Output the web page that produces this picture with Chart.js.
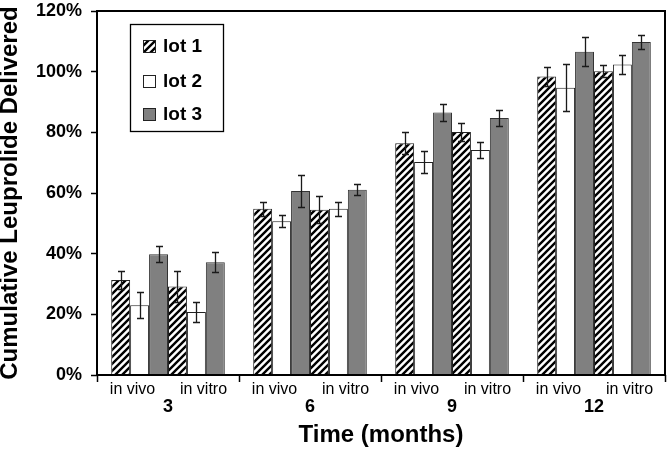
<!DOCTYPE html>
<html><head><meta charset="utf-8">
<script src="https://cdn.jsdelivr.net/npm/chart.js@4"></script>
<style>html,body{margin:0;padding:0;background:#fff}#wrap{width:667px;height:449px;position:relative}</style>
</head><body><div id="wrap"><canvas id="c"></canvas></div>
<script>
// ---- data ----
const months = ['3', '6', '9', '12'];
const conditions = ['in vivo', 'in vitro'];
const lotNames = ['lot 1', 'lot 2', 'lot 3'];
const yTicks = [0, 20, 40, 60, 80, 100, 120];

const lot1InVivo  = [31.3, 54.8, 76.4, 98.4];
const lot2InVivo  = [23.0, 50.7, 70.2, 94.7];
const lot3InVivo  = [39.8, 60.7, 86.5, 106.6];
const lot1InVitro = [29.2, 54.5, 80.1, 100.1];
const lot2InVitro = [20.8, 54.8, 74.2, 102.4];
const lot3InVitro = [37.2, 61.1, 84.7, 109.8];

const lot1InVivoErr  = [3.0, 2.3, 3.7, 3.0];
const lot2InVivoErr  = [4.3, 2.0, 3.6, 7.7];
const lot3InVivoErr  = [2.6, 5.2, 2.8, 4.8];
const lot1InVitroErr = [5.0, 4.4, 3.0, 2.0];
const lot2InVitroErr = [3.2, 2.3, 2.6, 3.2];
const lot3InVitroErr = [3.3, 1.8, 2.7, 2.3];

// ---- styles ----
const FONT = '"Liberation Sans", Arial, sans-serif';
function hatch() {
  const s = 7, c = document.createElement('canvas');
  c.width = s; c.height = s;
  const g = c.getContext('2d');
  g.fillStyle = '#fff'; g.fillRect(0, 0, s, s);
  g.strokeStyle = '#000'; g.lineWidth = 2.4;
  g.beginPath();
  g.moveTo(-1, 1); g.lineTo(1, -1);
  g.moveTo(0, s); g.lineTo(s, 0);
  g.moveTo(s - 1, s + 1); g.lineTo(s + 1, s - 1);
  g.stroke();
  return document.getElementById('c').getContext('2d').createPattern(c, 'repeat');
}
const lotFills = [hatch(), '#ffffff', '#808080'];
const lotBorders = ['#222', '#222', '#333'];

const seriesValues = [lot1InVivo, lot2InVivo, lot3InVivo, lot1InVitro, lot2InVitro, lot3InVitro];
const seriesErrors = [lot1InVivoErr, lot2InVivoErr, lot3InVivoErr, lot1InVitroErr, lot2InVitroErr, lot3InVitroErr];

const datasets = seriesValues.map((vals, i) => ({
  label: lotNames[i % 3] + ' ' + conditions[Math.floor(i / 3)],
  data: vals,
  errors: seriesErrors[i],
  backgroundColor: lotFills[i % 3],
  borderColor: lotBorders[i % 3],
  borderWidth: 1,
  borderSkipped: 'bottom',
  xAxisID: 'x',
  categoryPercentage: 0.80,
  barPercentage: 1.0
}));

const subLabels = [];
months.forEach(() => conditions.forEach(c => subLabels.push(c)));

const errorBars = {
  id: 'errorBars',
  afterDatasetsDraw(chart) {
    const ctx = chart.ctx, y = chart.scales.y;
    ctx.save();
    ctx.strokeStyle = '#1a1a1a'; ctx.lineWidth = 1.3;
    chart.data.datasets.forEach((ds, i) => {
      chart.getDatasetMeta(i).data.forEach((bar, j) => {
        const v = ds.data[j], e = ds.errors[j];
        const yt = Math.round(y.getPixelForValue(v + e)) + 0.5;
        const yb = Math.round(y.getPixelForValue(v - e)) + 0.5;
        const x = Math.round(bar.x) + 0.5;
        ctx.beginPath();
        ctx.moveTo(x, yt); ctx.lineTo(x, yb);
        ctx.moveTo(x - 3.5, yt); ctx.lineTo(x + 3.5, yt);
        ctx.moveTo(x - 3.5, yb); ctx.lineTo(x + 3.5, yb);
        ctx.stroke();
      });
    });
    // frame
    const a = chart.chartArea;
    ctx.strokeStyle = '#000'; ctx.lineWidth = 2;
    ctx.strokeRect(a.left, a.top, a.right - a.left, a.bottom - a.top);
    ctx.restore();
  }
};

const insetLegend = {
  id: 'insetLegend',
  afterDraw(chart) {
    const ctx = chart.ctx;
    ctx.save();
    ctx.fillStyle = '#fff';
    ctx.fillRect(130, 24, 93, 107);
    ctx.strokeStyle = '#000'; ctx.lineWidth = 1.3;
    ctx.strokeRect(130.5, 24.5, 93, 107);
    const rows = [46, 81, 114];
    ctx.font = 'bold 19px ' + FONT;
    ctx.textBaseline = 'middle';
    ctx.textAlign = 'left';
    lotNames.forEach((name, i) => {
      const ds = chart.data.datasets[i];
      ctx.fillStyle = ds.backgroundColor;
      ctx.fillRect(143, rows[i] - 6, 12, 12);
      ctx.strokeStyle = '#222'; ctx.lineWidth = 1;
      ctx.strokeRect(143.5, rows[i] - 5.5, 12, 12);
      ctx.fillStyle = '#000';
      ctx.fillText(name, 163, rows[i] + 1);
    });
    ctx.restore();
  }
};

new Chart(document.getElementById('c'), {
  type: 'bar',
  data: { labels: months, datasets },
  plugins: [errorBars, insetLegend],
  options: {
    responsive: true,
    maintainAspectRatio: false,
    animation: false,
    layout: { padding: { top: 11, right: 2, left: 0, bottom: 0 } },
    plugins: { legend: { display: false }, tooltip: { enabled: false } },
    scales: {
      x2: {
        type: 'category',
        labels: subLabels,
        position: 'bottom',
        weight: 0,
        offset: true,
        border: { display: false },
        grid: {
          drawOnChartArea: false, drawTicks: true, tickLength: 7, tickWidth: 1.5,
          tickColor: c => (c.index === undefined || c.index % 2 === 0) ? '#000' : 'rgba(0,0,0,0)'
        },
        ticks: { autoSkip: false, maxRotation: 0, padding: 0, color: '#000',
                 font: { family: FONT, size: 16, lineHeight: 1 } },
        afterFit: s => { s.height = 22; }
      },
      x: {
        position: 'bottom',
        weight: 1,
        offset: true,
        border: { display: false },
        grid: { display: false, drawTicks: false },
        ticks: { padding: 1, color: '#000', maxRotation: 0,
                 font: { family: FONT, size: 18, weight: 'bold', lineHeight: 1 } },
        title: { display: true, text: 'Time (months)', color: '#000',
                 padding: { top: 0, bottom: 2 },
                 font: { family: FONT, size: 24, weight: 'bold', lineHeight: 1 } },
        afterFit: s => { s.height = 52; }
      },
      y: {
        min: 0, max: 120,
        afterBuildTicks: s => { s.ticks = yTicks.map(v => ({ value: v })); },
        border: { display: false },
        grid: { drawOnChartArea: false, drawTicks: true, tickLength: 6, tickWidth: 1.5, tickColor: '#000' },
        ticks: { padding: 9, color: '#000', callback: v => v + '%',
                 font: { family: FONT, size: 18, weight: 'bold', lineHeight: 1 } },
        title: { display: true, text: 'Cumulative Leuprolide Delivered', color: '#000',
                 padding: { top: 0, bottom: 0 },
                 font: { family: FONT, size: 24, weight: 'bold', lineHeight: 0.85 } },
        afterFit: s => { s.width = 97; s.paddingTop = 0; s.paddingBottom = 0; }
      }
    }
  }
});
</script></body></html>
